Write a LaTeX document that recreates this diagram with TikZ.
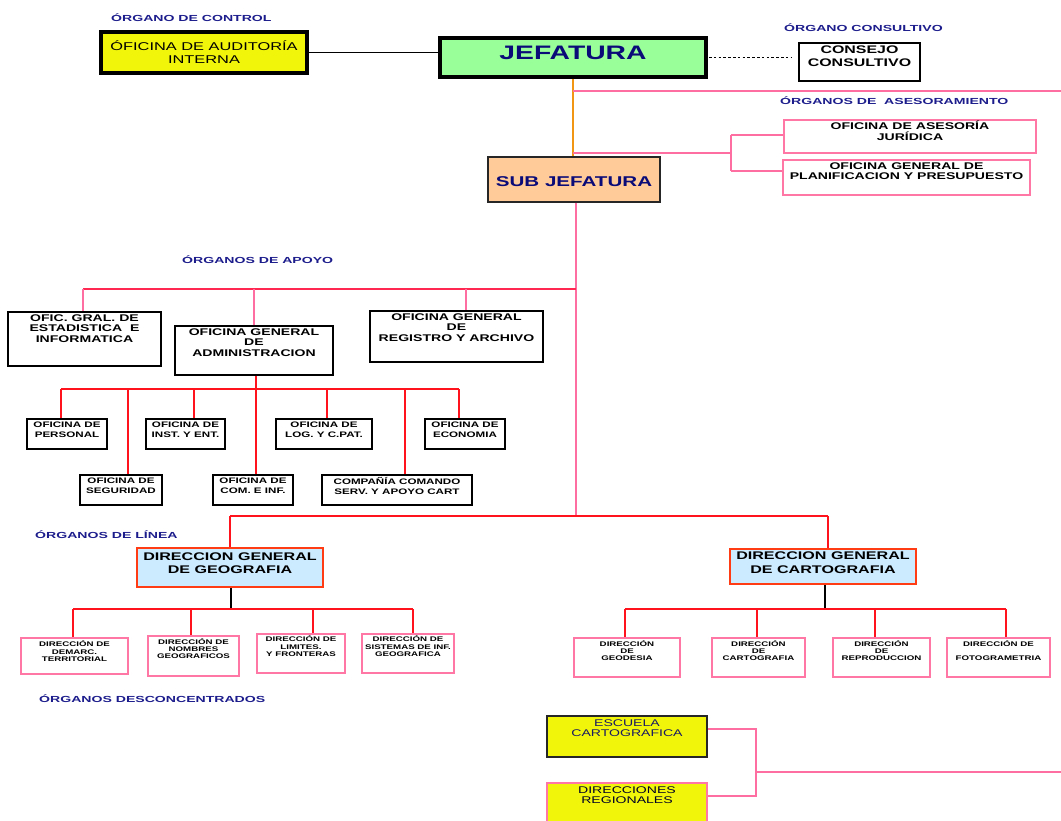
\documentclass[tikz,border=0pt]{standalone}
\usepackage{fontspec}
\setmainfont{Liberation Sans}[FakeStretch=1.45]
\newfontfamily\lblfont{Liberation Sans}[FakeStretch=1.6]
\usetikzlibrary{calc}
\definecolor{navy}{RGB}{28,28,140}
\definecolor{jnavy}{RGB}{10,10,120}
\definecolor{yel}{RGB}{240,245,10}
\definecolor{grn}{RGB}{153,255,153}
\definecolor{peach}{RGB}{255,204,153}
\definecolor{lblue}{RGB}{204,235,255}
\definecolor{pnk}{RGB}{255,110,160}
\definecolor{pnkbox}{RGB}{255,120,165}
\definecolor{rd}{RGB}{255,20,30}
\definecolor{rdpk}{RGB}{255,40,80}
\definecolor{rdor}{RGB}{255,60,20}
\definecolor{orng}{RGB}{240,150,20}
\definecolor{dnavy}{RGB}{25,25,100}
\newcommand\myfs[2]{\fontsize{#1}{#2}\selectfont}
\newcommand\bx[6][]{\node[draw, inner sep=0pt, minimum width={#5-#3}, minimum height={#6-#4}, #1] (#2) at ({(#3+#5)/2},{(#4+#6)/2}) {};}
\begin{document}
\begin{tikzpicture}[x=1pt,y=-1pt,
 tx/.style={inner sep=0pt, align=center, anchor=north},
 lbl/.style={font=\lblfont\bfseries\myfs{8.8}{10}, text=navy, anchor=west, inner sep=0pt},
 blackbox/.style={draw=black, line width=1.4pt, fill=white},
 pinkbox/.style={draw=pnkbox, line width=1.3pt, fill=white},
 dgbox/.style={draw=rdor, line width=2pt, fill=lblue},
 pinkline/.style={draw=pnk, line width=2pt},
 redline/.style={draw=rd, line width=2pt},
 f97/.style={font=\bfseries\myfs{9.7}{10.5}},
 f8/.style={font=\bfseries\myfs{8}{10}},
 f67/.style={font=\bfseries\myfs{6.7}{7.4}},
]
\useasboundingbox (0,0) rectangle (1061,821);
\clip (0,0) rectangle (1061,821);

% ---------- labels ----------
\node[lbl] (lctl) at (111,18) {ÓRGANO DE CONTROL};
\node[lbl] (lcons) at (784,28) {ÓRGANO CONSULTIVO};
\node[lbl] (lases) at (780,101) {ÓRGANOS DE~ ASESORAMIENTO};
\node[lbl] (lapo) at (182,260) {ÓRGANOS DE APOYO};
\node[lbl] (llin) at (35,535) {ÓRGANOS DE LÍNEA};
\node[lbl] (ldes) at (39,699) {ÓRGANOS DESCONCENTRADOS};

% ---------- top ----------
\bx[fill=yel, line width=3.5pt]{aud}{101}{32}{307}{73}
\node[font=\myfs{11.3}{13}, align=center, inner sep=0pt] (audt) at (aud.center) {ÓFICINA DE AUDITORÍA\\INTERNA};

\bx[fill=grn, line width=4pt]{jef}{440}{38}{706}{77}
\node[font=\bfseries\myfs{19.5}{22}, text=jnavy, inner sep=0pt] (jeft) at ([yshift=5pt]jef.center) {JEFATURA};

\bx[blackbox, line width=1.2pt]{cons}{799}{43}{920}{81}
\node[tx, font=\bfseries\myfs{11}{13}] (const) at (859.5,45.5) {CONSEJO\\CONSULTIVO};

\bx[pinkbox]{asj}{784}{120}{1036}{153}
\node[tx, f97] (asjt) at (910,121) {OFICINA DE ASESORÍA\\JURÍDICA};
\bx[pinkbox]{pla}{783}{160}{1030}{195}
\node[tx, f97] (plat) at (906.5,162.5) {OFICINA GENERAL DE\\PLANIFICACION Y PRESUPUESTO};

\bx[fill=peach, draw=black!85, line width=2pt]{sub}{488}{157}{660}{202}
\node[font=\bfseries\myfs{14.2}{16}, text=jnavy, inner sep=0pt] (subt) at ([yshift=-2.5pt]sub.center) {SUB JEFATURA};

% ---------- apoyo ----------
\bx[blackbox]{est}{8}{312}{161}{366}
\node[tx, f97] (estt) at (84.5,314.5) {OFIC. GRAL. DE\\ESTADISTICA~ E\\INFORMATICA};
\bx[blackbox]{adm}{175}{326}{333}{375}
\node[tx, f97] (admt) at (254,328.5) {OFICINA GENERAL\\DE\\ADMINISTRACION};
\bx[blackbox]{reg}{370}{311}{543}{362}
\node[tx, f97] (regt) at (456.5,313.5) {OFICINA GENERAL\\DE\\REGISTRO Y ARCHIVO};

\bx[blackbox]{per}{27}{419}{107}{449}
\node[tx, f8] (pert) at (67,421.5) {OFICINA DE\\PERSONAL};
\bx[blackbox]{ins}{146}{419}{225}{449}
\node[tx, f8] (inst) at (185.5,421.5) {OFICINA DE\\INST. Y ENT.};
\bx[blackbox]{log}{276}{419}{372}{449}
\node[tx, f8] (logt) at (324,421.5) {OFICINA DE\\LOG. Y C.PAT.};
\bx[blackbox]{eco}{425}{419}{505}{449}
\node[tx, f8] (ecot) at (465,421.5) {OFICINA DE\\ECONOMIA};
\bx[blackbox]{seg}{80}{475}{162}{505}
\node[tx, f8] (segt) at (121,477.5) {OFICINA DE\\SEGURIDAD};
\bx[blackbox]{com}{213}{475}{293}{505}
\node[tx, f8] (comt) at (253,477.5) {OFICINA DE\\COM. E INF.};
\bx[blackbox]{cia}{322}{475}{472}{505}
\node[tx, f8] (ciat) at (397,477.5) {COMPAÑÍA COMANDO\\SERV. Y APOYO CART};

% ---------- linea ----------
\bx[dgbox]{dgg}{137}{548}{323}{587}
\node[tx, font=\bfseries\myfs{11.1}{12.6}] (dggt) at (230,552.5) {DIRECCION GENERAL\\DE GEOGRAFIA};
\bx[dgbox]{dgc}{730}{549}{916}{584}
\node[tx, font=\bfseries\myfs{11.1}{13.5}] (dgct) at (823,552) {DIRECCION GENERAL\\DE CARTOGRAFIA};

\bx[pinkbox]{dem}{21}{638}{128}{674}
\node[tx, f67] (demt) at (74.5,640.5) {DIRECCIÓN DE\\DEMARC.\\TERRITORIAL};
\bx[pinkbox]{nom}{148}{636}{239}{676}
\node[tx, f67] (nomt) at (193.5,638) {DIRECCIÓN DE\\NOMBRES\\GEOGRAFICOS};
\bx[pinkbox]{lim}{257}{634}{345}{673}
\node[tx, f67] (limt) at (301,635.5) {DIRECCIÓN DE\\LIMITES.\\ Y FRONTERAS};
\bx[pinkbox]{sis}{362}{634}{454}{673}
\node[tx, f67] (sist) at (408,635.5) {DIRECCIÓN DE\\SISTEMAS DE INF.\\GEOGRAFICA};

\bx[pinkbox]{geo}{574}{638}{680}{677}
\node[tx, f67] (geot) at (627,640) {DIRECCIÓN\\DE\\GEODESIA};
\bx[pinkbox]{car}{712}{638}{805}{677}
\node[tx, f67] (cart) at (758.5,640) {DIRECCIÓN\\DE\\CARTOGRAFIA};
\bx[pinkbox]{rep}{833}{638}{930}{677}
\node[tx, f67] (rept) at (881.5,640) {DIRECCIÓN\\DE\\REPRODUCCION};
\bx[pinkbox]{fot}{947}{638}{1050}{677}
\node[tx, f67] (fott) at (998.5,640) {DIRECCIÓN DE\\[7.4pt]FOTOGRAMETRIA};

% ---------- desconcentrados ----------
\bx[fill=yel, draw=black!85, line width=1.5pt]{esc}{547}{716}{707}{757}
\node[tx, font=\myfs{9.7}{10.3}, text=dnavy] (esct) at (627,719.5) {ESCUELA\\CARTOGRAFICA};
\bx[fill=yel, draw=pnkbox, line width=1.5pt]{dre}{547}{783}{707}{832}
\node[tx, font=\myfs{9.7}{10.3}, text=black!85!blue] (dret) at (627,786.5) {DIRECCIONES\\REGIONALES};

% ---------- connectors ----------
\draw[line width=1pt] (aud.east) -- (aud.east -| jef.west);
\draw[line width=1.8pt, dash pattern=on 2.6pt off 2.2pt, shorten <=1pt, shorten >=6pt] (jef.east) -- (jef.east -| cons.west);
\draw[draw=orng, line width=2.2pt] (jef.south) -- (jef.south |- sub.north);
\coordinate (edgeA) at (1061,91);
\draw[pinkline] (jef.south |- edgeA) -- (edgeA);
\coordinate (brM) at (731,153);
\coordinate (brT) at (731,135);
\coordinate (brB) at (731,171);
\draw[pinkline] (jef.south |- brM) -- (brM);
\draw[pinkline] (brT) -- (brB);
\draw[pinkline] (brT) -- (brT -| asj.west);
\draw[pinkline] (brB) -- (brB -| pla.west);

% main trunk
\coordinate (busL) at (576,516);
\draw[pinkline] ([xshift=2pt]sub.south) -- (busL);

% apoyo
\coordinate (busA) at (576,289);
\coordinate (busA0) at (83,289);
\draw[draw=rdpk, line width=2pt] (busA0) -- (busA);
\draw[pinkline] (busA0) -- (busA0 |- est.north);
\draw[pinkline] (adm.north |- busA) -- (adm.north);
\draw[pinkline] ([xshift=9.5pt]reg.north |- busA) -- ([xshift=9.5pt]reg.north);

% administracion tree
\coordinate (b1) at (61,389);
\coordinate (b2) at (128,389);
\coordinate (b3) at (194,389);
\coordinate (b4) at (256,389);
\coordinate (b5) at (327,389);
\coordinate (b6) at (405,389);
\coordinate (b7) at (459,389);
\draw[redline, line width=1.6pt] (b1) -- (b7);
\draw[redline, line width=1.6pt] (adm.south -| b4) -- (b4 |- com.north);
\draw[redline, line width=1.6pt] (b1) -- (b1 |- per.north);
\draw[redline, line width=1.6pt] (b2) -- (b2 |- seg.north);
\draw[redline, line width=1.6pt] (b3) -- (b3 |- ins.north);
\draw[redline, line width=1.6pt] (b5) -- (b5 |- log.north);
\draw[redline, line width=1.6pt] (b6) -- (b6 |- cia.north);
\draw[redline, line width=1.6pt] (b7) -- (b7 |- eco.north);

% linea bus
\coordinate (lg) at (230,516);
\coordinate (lc) at (828,516);
\draw[redline, line width=2.6pt] (lg) -- (lc);
\draw[redline, line width=2.6pt] (lg) -- (lg |- dgg.north);
\draw[redline, line width=2.6pt] (lc) -- (lc |- dgc.north);

% geografia tree
\coordinate (g0) at (231,609);
\coordinate (g1) at (73,609);
\coordinate (g2) at (191,609);
\coordinate (g3) at (313,609);
\coordinate (g4) at (413,609);
\draw[line width=2pt] (dgg.south -| g0) -- (g0);
\draw[redline] (g1) -- (g4);
\draw[redline, line width=2.4pt] (g1) -- (g1 |- dem.north);
\draw[redline, line width=2.4pt] (g2) -- (g2 |- nom.north);
\draw[redline, line width=2.4pt] (g3) -- (g3 |- lim.north);
\draw[redline, line width=2.4pt] (g4) -- (g4 |- sis.north);

% cartografia tree
\coordinate (c0) at (825,609);
\coordinate (c1) at (625,609);
\coordinate (c2) at (757,609);
\coordinate (c3) at (875,609);
\coordinate (c4) at (1006,609);
\draw[line width=2pt] (dgc.south -| c0) -- (c0);
\draw[redline] (c1) -- (c4);
\draw[redline, line width=2.4pt] (c1) -- (c1 |- geo.north);
\draw[redline, line width=2.4pt] (c2) -- (c2 |- car.north);
\draw[redline, line width=2.4pt] (c3) -- (c3 |- rep.north);
\draw[redline, line width=2.4pt] (c4) -- (c4 |- fot.north);

% desconcentrados bracket
\coordinate (dT) at (756,729);
\coordinate (dB) at (756,796);
\coordinate (dM) at (756,772);
\coordinate (dR) at (1061,772);
\draw[pinkline] (dT -| esc.east) -- (dT) -- (dB) -- (dB -| dre.east);
\draw[pinkline] (dM) -- (dR);
\end{tikzpicture}
\end{document}
